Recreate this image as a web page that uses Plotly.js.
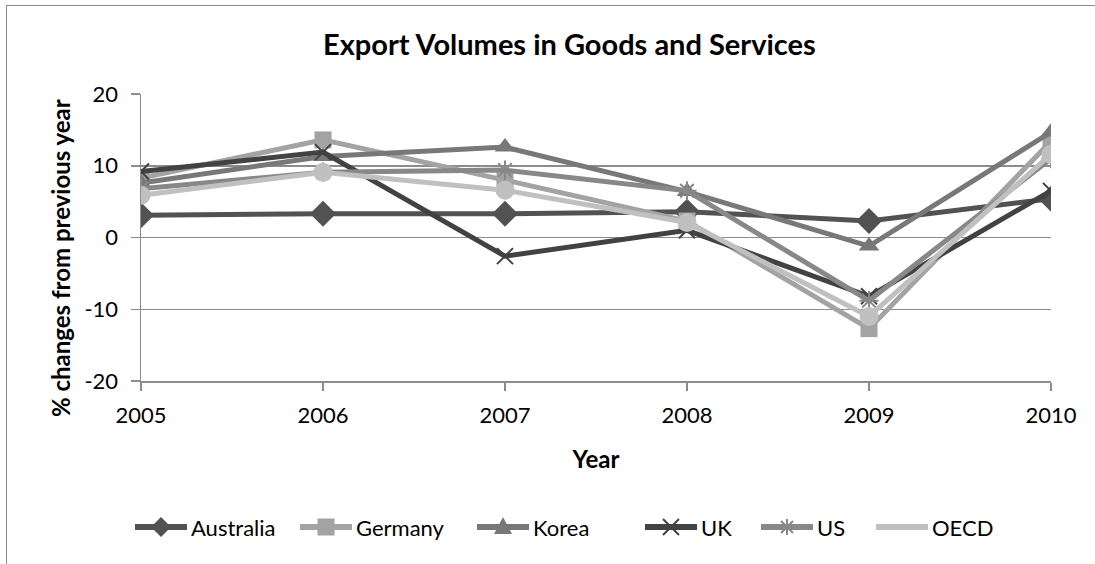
<!DOCTYPE html>
<html>
<head>
<meta charset="utf-8">
<script src="https://cdn.plot.ly/plotly-3.0.1.min.js"></script>
<style>
html,body{margin:0;padding:0;overflow:hidden;background:#fff;}
#frame{position:absolute;left:6px;top:5px;width:1300px;height:700px;border-left:1.5px solid #8c8c8c;border-top:1.5px solid #8c8c8c;pointer-events:none;z-index:5;}
#chart{position:absolute;left:0;top:0;width:1095px;height:564px;}
</style>
</head>
<body>
<div id="chart"></div>
<div id="frame"></div>
<script>
const years = ['2005','2006','2007','2008','2009','2010'];
const australia = [3.1, 3.3, 3.3, 3.6, 2.3, 5.4];
const germany   = [8.3, 13.6, 8.0, 2.3, -12.7, 13.4];
const korea     = [7.6, 11.3, 12.6, 6.4, -1.2, 14.7];
const uk        = [9.2, 11.9, -2.6, 1.0, -8.2, 6.5];
const us        = [6.8, 9.1, 9.4, 6.5, -8.8, 11.0];
const oecd      = [5.9, 9.1, 6.6, 2.1, -11.0, 11.6];
const seriesNames = ['Australia','Germany','Korea','UK','US','OECD'];
const yTickVals = [-20, -10, 0, 10, 20];
const yTickText = ['-20', '-10', '0', '10', '20'];

const FONT = 'Lato, "Liberation Sans", sans-serif';

// plot area in pixels
const PL = 141, PR = 1051, PT = 94, PB = 381;
const px2x = p => (p - PL) / (PR - PL);
const py2y = p => (PB - p) / (PB - PT);

const styles = [
  {color: '#525252', symbol: 'diamond', size: 20, open: false,
   path: 'M -10 0 L 0 10 L 10 0 L 0 -10 Z', fill: true},
  {color: '#a3a3a3', symbol: 'square', size: 17, open: false,
   path: 'M -8.5 -8.5 L 8.5 -8.5 L 8.5 8.5 L -8.5 8.5 Z', fill: true},
  {color: '#787878', symbol: 'triangle-up', size: 18, open: false,
   path: 'M -9 -7 L 9 -7 L 0 10 Z', fill: true},
  {color: '#424242', symbol: 'x-thin-open', size: 16, open: true,
   path: 'M -8 -8 L 8 8 M -8 8 L 8 -8', fill: false},
  {color: '#888888', symbol: 'asterisk-open', size: 16, open: true,
   path: 'M -8 0 L 8 0 M 0 -8 L 0 8 M -6 -6 L 6 6 M -6 6 L 6 -6', fill: false},
  {color: '#c0c0c0', symbol: 'circle', size: 19, open: false,
   path: 'M -9.5 0 A 9.5 9.5 0 1 0 9.5 0 A 9.5 9.5 0 1 0 -9.5 0 Z', fill: true}
];
const seriesValues = [australia, germany, korea, uk, us, oecd];

const data = seriesValues.map((vals, i) => {
  const s = styles[i];
  return {
    x: years, y: vals, name: seriesNames[i], type: 'scatter', mode: 'lines+markers',
    line: {color: s.color, width: 5},
    marker: {symbol: s.symbol, size: s.size, color: s.color,
             line: s.open ? {color: s.color, width: 2} : {width: 0}},
    showlegend: false
  };
});

// custom legend (Excel-style long symbol lines)
const legendLineStarts = [135, 300, 477, 645, 761, 876];
const LEG_Y = 527, LEG_LEN = 52;
const shapes = [];
const annotations = [];
legendLineStarts.forEach((x0, i) => {
  const s = styles[i];
  shapes.push({type: 'line', xref: 'paper', yref: 'paper',
    x0: px2x(x0), x1: px2x(x0 + LEG_LEN), y0: py2y(LEG_Y), y1: py2y(LEG_Y),
    line: {color: s.color, width: 6}});
  shapes.push({type: 'path', xref: 'paper', yref: 'paper',
    xsizemode: 'pixel', ysizemode: 'pixel',
    xanchor: px2x(x0 + LEG_LEN / 2), yanchor: py2y(LEG_Y),
    path: s.path,
    fillcolor: s.fill ? s.color : 'rgba(0,0,0,0)',
    line: {color: s.color, width: s.fill ? 0 : 2}});
  annotations.push({xref: 'paper', yref: 'paper', x: px2x(x0 + LEG_LEN + 2), y: py2y(LEG_Y),
    xanchor: 'left', yanchor: 'middle', showarrow: false, text: seriesNames[i],
    font: {family: FONT, size: 22, color: '#000'}});
});
// y axis title
annotations.push({xref: 'paper', yref: 'paper', x: px2x(60), y: py2y(258),
  xanchor: 'center', yanchor: 'middle', showarrow: false, textangle: -90,
  text: '<b>% changes from previous year</b>', font: {family: FONT, size: 24, color: '#000'}});

const layout = {
  width: 1095, height: 564,
  margin: {l: PL, r: 1095 - PR, t: PT, b: 564 - PB},
  paper_bgcolor: 'rgba(0,0,0,0)', plot_bgcolor: '#fff',
  font: {family: FONT, size: 22, color: '#000'},
  showlegend: false,
  title: {text: '<b>Export Volumes in Goods and Services</b>', font: {family: FONT, size: 29, color: '#000'},
          xref: 'container', x: 0.52, xanchor: 'center', yref: 'container', y: 1 - 45/564, yanchor: 'middle'},
  xaxis: {
    type: 'category', range: [0, 5],
    showgrid: false, zeroline: false,
    showline: true, linecolor: '#8c8c8c', linewidth: 1.5,
    ticks: 'outside', ticklen: 8, tickcolor: '#8c8c8c', tickwidth: 1.5,
    ticklabelstandoff: 6,
    tickfont: {family: FONT, size: 22, color: '#000'},
    title: {text: '<b>Year</b>', font: {family: FONT, size: 24, color: '#000'}, standoff: 24}
  },
  yaxis: {
    range: [-20, 20], tickmode: 'array', tickvals: yTickVals, ticktext: yTickText,
    showgrid: true, gridcolor: '#8c8c8c', gridwidth: 1.5,
    zeroline: false,
    showline: true, linecolor: '#8c8c8c', linewidth: 1.5,
    ticks: 'outside', ticklen: 9, tickcolor: '#8c8c8c', tickwidth: 1.5,
    ticklabelstandoff: 8,
    tickfont: {family: FONT, size: 22, color: '#000'}
  },
  shapes: shapes,
  annotations: annotations
};

Plotly.newPlot('chart', data, layout, {displayModeBar: false, staticPlot: true});
</script>
</body>
</html>
